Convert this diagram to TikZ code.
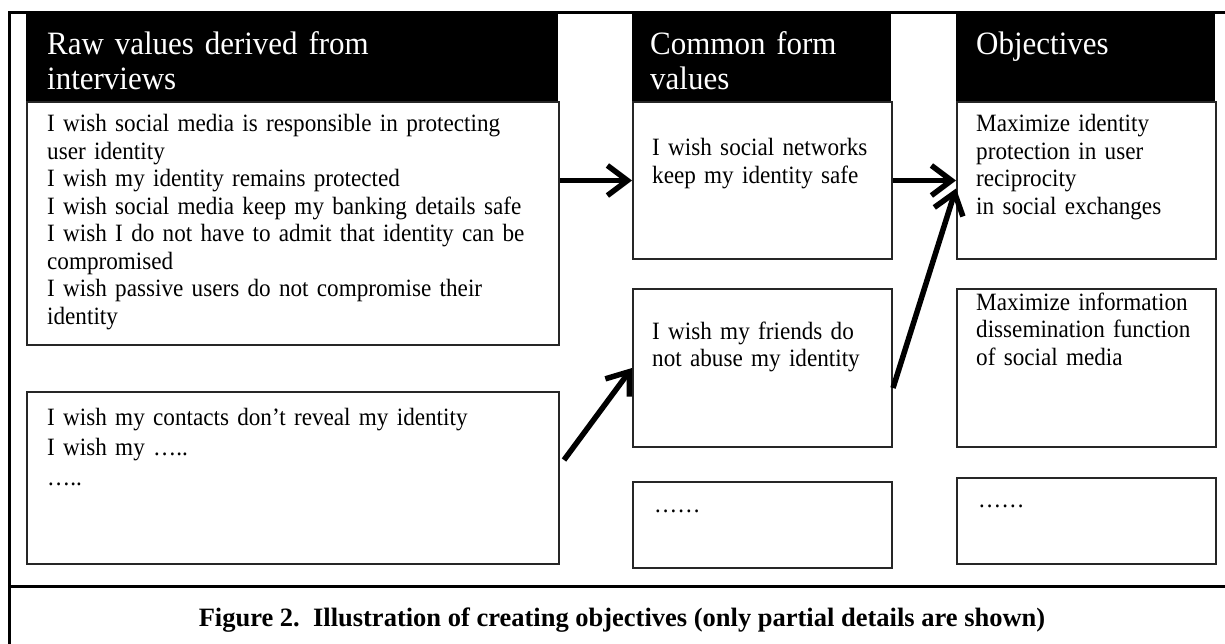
\documentclass[tikz,border=0pt]{standalone}
\usepackage{fontspec}
\setmainfont{Liberation Serif}
\newfontfamily\bdyfam{Liberation Serif}[FakeStretch=0.93]
\newfontfamily\hdrfam{Liberation Serif}[FakeStretch=0.95]
\usetikzlibrary{arrows.meta}

\newcommand{\hdrfont}{\hdrfam\fontsize{32.6}{34.5}\selectfont}
\newcommand{\bdyfont}{\bdyfam\fontsize{24.9}{27.5}\selectfont}
\newcommand{\capfont}{\fontsize{26.5}{28}\selectfont\bfseries}

\tikzset{
  outline/.style={line width=3pt},
  hdrbox/.style={fill=black, inner sep=0pt, anchor=north west},
  valbox/.style={draw=black!85, line width=2pt, inner sep=0pt, anchor=north west},
  hdrtxt/.style={text=white, font=\hdrfont, align=left, inner sep=0pt,
    anchor=base west, text width=#1},
  valtxt/.style={font=\bdyfont, align=left, inner sep=0pt,
    anchor=base west, text width=#1},
  flow/.style={line width=5.5pt, -{Straight Barb[length=20pt,width=30pt]}},
}

\begin{document}
\begin{tikzpicture}[x=1pt,y=-1pt]
  \useasboundingbox (0,0) rectangle (1225,644);
%
  % frame and caption rule
  \draw[outline] (9,644) -- (9,13) -- (1225,13);
  \draw[outline] (9,586) -- (1225,586);
%
  % raw values
  \node[hdrbox, minimum width=532pt, minimum height=88pt] (rawhd) at (26,13) {};
  \node[valbox, minimum width=532pt, minimum height=243pt] (rawbody) at (26,101) {};
  \node[valbox, minimum width=532pt, minimum height=172pt] (rawlow) at (26,391) {};
  % common form values
  \node[hdrbox, minimum width=259pt, minimum height=88pt] (cfhd) at (632,13) {};
  \node[valbox, minimum width=259pt, minimum height=157pt] (cf1) at (632,101) {};
  \node[valbox, minimum width=259pt, minimum height=158pt] (cf2) at (632,288) {};
  \node[valbox, minimum width=259pt, minimum height=86pt] (cf3) at (632,481) {};
  % objectives
  \node[hdrbox, minimum width=259pt, minimum height=88pt] (obhd) at (956,13) {};
  \node[valbox, minimum width=259pt, minimum height=157pt] (ob1) at (956,101) {};
  \node[valbox, minimum width=259pt, minimum height=158pt] (ob2) at (956,288) {};
  \node[valbox, minimum width=259pt, minimum height=86pt] (ob3) at (956,477) {};
%
  \node[hdrtxt=500pt] (rawhdtxt) at (47,55) {Raw values derived from\\interviews};
  \node[hdrtxt=240pt] (cfhdtxt) at (650,55) {Common form\\values};
  \node[hdrtxt=230pt] (obhdtxt) at (976,55) {Objectives};
%
  \node[valtxt=505pt] (rawtxt) at (47,132) {I wish social media is responsible in protecting\\
    user identity\\
    I wish my identity remains protected\\
    I wish social media keep my banking details safe\\
    I wish I do not have to admit that identity can be\\
    compromised\\
    I wish passive users do not compromise their\\
    identity};
  \node[valtxt=505pt, font=\bdyfam\fontsize{24.9}{30}\selectfont] (lowtxt) at (47,425)
    {I wish my contacts don’t reveal my identity\\I wish my …..\\…..};
  \node[valtxt=235pt] (cf1txt) at (652,156) {I wish social networks\\keep my identity safe};
  \node[valtxt=235pt] (cf2txt) at (652,339) {I wish my friends do\\not abuse my identity};
  \node[valtxt=200pt] (cf3txt) at (654,512) {……};
  \node[valtxt=235pt] (ob1txt) at (976,132) {Maximize identity\\protection in user\\reciprocity\\in social exchanges};
  \node[valtxt=235pt] (ob2txt) at (976,310) {Maximize information\\dissemination function\\of social media};
  \node[valtxt=200pt] (ob3txt) at (978,507) {……};
%
  \node[font=\capfont, anchor=base, inner sep=0pt] (caption) at (622,626)
    {Figure 2.~~Illustration of creating objectives (only partial details are shown)};
%
  % arrows
  \draw[flow] (cf1.west -| rawbody.east) -- (cf1.west);
  \draw[flow] (cf1.east) -- (ob1.west);
  \draw[flow] ([shift={(4pt,18pt)}]rawlow.east) -- (cf2.west);
  \draw[flow] ([yshift=-20pt]cf2.east) -- ([yshift=-8pt]ob1.west);
\end{tikzpicture}
\end{document}
